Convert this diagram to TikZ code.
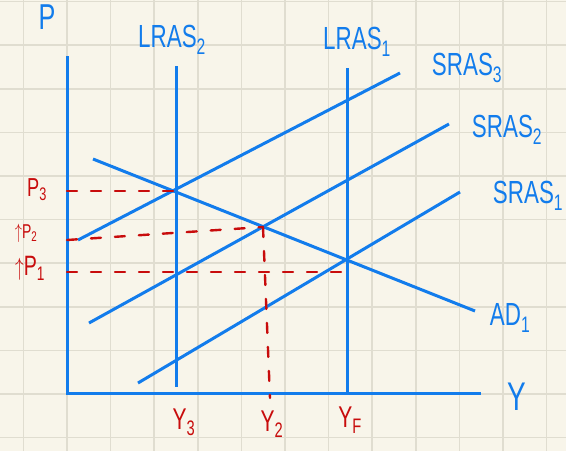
\documentclass[tikz,border=0pt]{standalone}
\usepackage{fontspec}
\setmainfont{Liberation Sans}
\definecolor{paper}{RGB}{248,245,234}
\definecolor{gridc}{RGB}{224,221,208}
\definecolor{pen}{RGB}{18,124,236}
\definecolor{ink}{RGB}{200,12,12}
\newcommand{\hand}[1]{\scalebox{0.7}[1]{#1}}
\newcommand{\sbs}[1]{\textsubscript{#1}}
\tikzset{
  gridline/.style={gridc, line width=1.6pt},
  curve/.style={pen, line width=3pt},
  guide/.style={ink, line width=2.4pt, dash pattern=on 10pt off 14pt, line cap=round},
  bluelabel/.style={pen, font=\fontsize{32}{32}\selectfont, inner sep=0pt},
  redlabel/.style={ink, font=\fontsize{30}{30}\selectfont, inner sep=0pt}
}
\begin{document}
\begin{tikzpicture}[x=1pt,y=-1pt]
\fill[paper] (0,0) rectangle (566,451);
\useasboundingbox (0,0) rectangle (566,451);
\foreach \i in {0,...,12} \draw[gridline] ({23.3+43.6*\i},0) -- ++(0,451);
\foreach \j in {0,...,10} \draw[gridline] (0,{1.5+43.6*\j}) -- ++(566,0);

% axes
\coordinate (ytop) at (67,56);
\coordinate (O) at (67,393);
\coordinate (xend) at (481,393);
\draw[curve, line join=miter] (ytop) -- (O) -- (xend);

% LRAS
\coordinate (l2t) at (176,66);
\coordinate (l2b) at (176,387);
\coordinate (l1t) at (347,68);
\coordinate (l1b) at (347,393);
\draw[curve] (l2t) -- (l2b);
\draw[curve] (l1t) -- (l1b);

% AD and SRAS
\coordinate (ads) at (93,159);
\coordinate (ade) at (475,311);
\coordinate (s3s) at (78,240);
\coordinate (s3e) at (400,73);
\coordinate (s2s) at (89,323);
\coordinate (s2e) at (449,124);
\coordinate (s1s) at (138,383);
\coordinate (s1e) at (460,192);
\draw[curve] (ads) -- (ade);
\draw[curve] (s3s) -- (s3e);
\draw[curve] (s2s) -- (s2e);
\draw[curve] (s1s) -- (s1e);

% equilibria
\coordinate (E3) at (176,191);
\coordinate (E2) at (263,227);
\coordinate (E1) at (347,259);
\coordinate (p3) at (67,191);
\coordinate (p2) at (67,240);
\coordinate (p1) at (67,272);
\coordinate (p1e) at (347,272);
\coordinate (y2) at (270,398);

\draw[guide] (p3) -- (E3);
\draw[guide] (p2) -- (E2);
\draw[guide] (p1) -- (p1e);
\draw[guide] (E2) -- (y2);

% blue labels
\node[bluelabel, font=\fontsize{36}{36}\selectfont] (lP) at (47,17) {\hand{P}};
\node[bluelabel] (lL2) at (172,40) {\hand{LRAS\sbs{2}}};
\node[bluelabel] (lL1) at (357,42) {\hand{LRAS\sbs{1}}};
\node[bluelabel] (lS3) at (467,68) {\hand{SRAS\sbs{3}}};
\node[bluelabel] (lS2) at (507,130) {\hand{SRAS\sbs{2}}};
\node[bluelabel] (lS1) at (528,196) {\hand{SRAS\sbs{1}}};
\node[bluelabel] (lAD) at (510,318) {\hand{AD\sbs{1}}};
\node[bluelabel, font=\fontsize{40}{40}\selectfont] (lY) at (517,397) {\hand{Y}};

% red labels
\node[redlabel, font=\fontsize{26}{26}\selectfont] (lP3) at (37,190) {\hand{P\sbs{3}}};
\node[redlabel, font=\fontsize{20}{20}\selectfont] (lP2) at (26,233) {\hand{$\uparrow$P\sbs{2}}};
\node[redlabel, font=\fontsize{28}{28}\selectfont] (lP1) at (30,268) {\hand{$\uparrow$P\sbs{1}}};
\node[redlabel] (lY3) at (184,422) {\hand{Y\sbs{3}}};
\node[redlabel] (lY2) at (272,424) {\hand{Y\sbs{2}}};
\node[redlabel] (lYF) at (350,420) {\hand{Y\sbs{F}}};
\end{tikzpicture}
\end{document}
